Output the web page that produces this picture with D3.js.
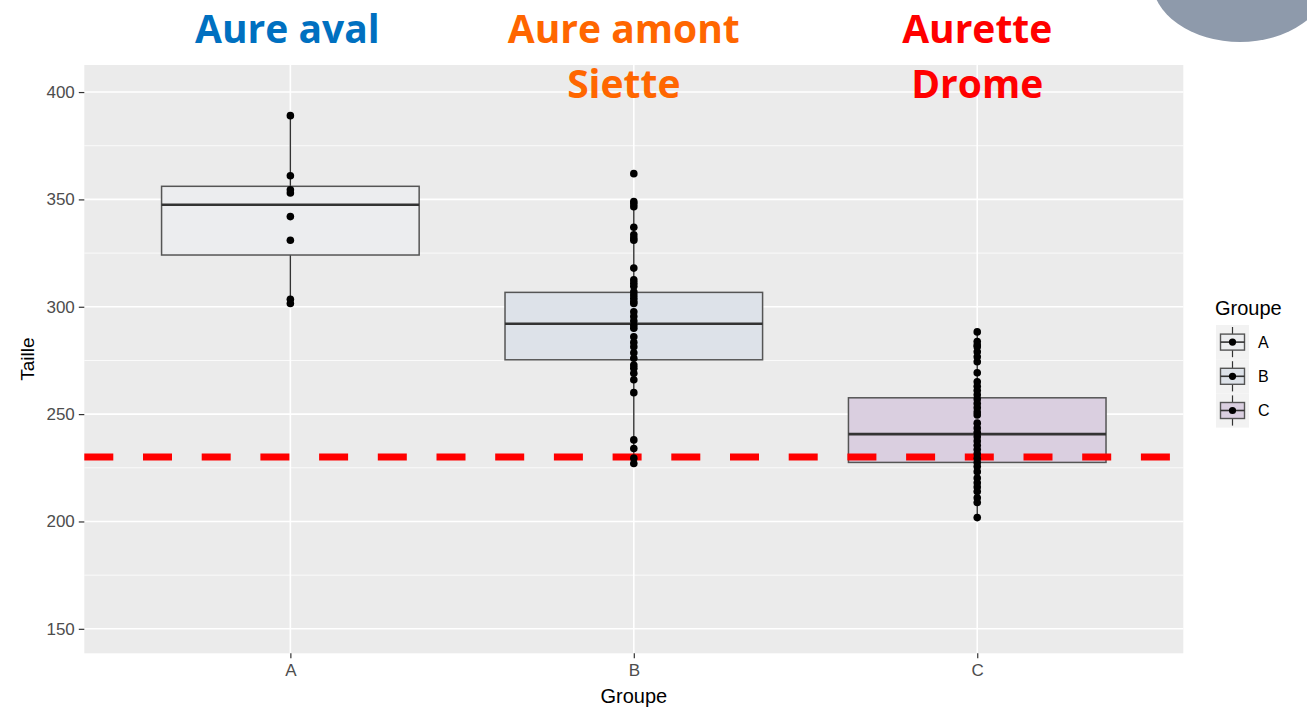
<!DOCTYPE html>
<html>
<head>
<meta charset="utf-8">
<script src="https://cdn.jsdelivr.net/npm/d3@7"></script>
<style>
  body { margin: 0; background: #fff; }
  svg { display: block; }
</style>
</head>
<body>
<div id="vis"></div>
<script>
// data
var groups = ["A", "B", "C"];
var groupFill = ["#ECEDEF", "#DDE2E9", "#DACFE0"];

var valuesA = [389, 361, 354.5, 353, 342, 331, 303.5, 301.5];
var valuesB = [362, 349, 348, 346.6, 337, 333.5, 332, 331, 318, 312.5, 311, 309.5,
               307, 305.5, 304, 302.5, 301.5, 297.7, 295.5, 293.4, 291.3, 290,
               286, 283.4, 281.4, 278.6, 276, 272.9, 271.4, 269, 266, 260,
               238, 234, 229.5, 227];
var valuesC = [288.3, 283.8, 282.2, 281.4, 279, 276.7, 274.4, 269.3,
               265.1, 263, 261, 259, 257, 255, 253, 251, 249.6,
               245.8, 243.5, 241.5, 239.5, 237.5, 235.5, 233.5, 231.5, 229.5, 227.5,
               225.6, 223.2, 220.2, 218, 216, 213.9, 211, 208.8, 201.8];

// box statistics (lower whisker, Q1, median, Q3, upper whisker)
var whiskerLow  = [301.5, 227, 201.8];
var boxQ1       = [324.1, 275.3, 227.5];
var boxMedian   = [347.5, 292.1, 240.7];
var boxQ3       = [356.1, 306.7, 257.6];
var whiskerHigh = [389, 349, 288.3];

var yMajor = [150, 200, 250, 300, 350, 400];
var yMinor = [175, 225, 275, 325, 375];
var refLine = 230;

var titles = [
  {group: "A", lines: ["Aure aval"], color: "#0070C0"},
  {group: "B", lines: ["Aure amont", "Siette"], color: "#FF6600"},
  {group: "C", lines: ["Aurette", "Drome"], color: "#FF0000"}
];
var titleShift = {A: -3, B: -10, C: 0};

var allValues = [valuesA, valuesB, valuesC];

var width = 1307, height = 714;
var panel = {left: 84.3, right: 1183.3, top: 65, bottom: 653.3};
var axisFont = "'Liberation Sans', Arial, sans-serif";

var svg = d3.select("#vis").append("svg")
  .attr("width", width)
  .attr("height", height);

// grey shape top-right
svg.append("ellipse")
  .attr("cx", 1240).attr("cy", -20)
  .attr("rx", 88).attr("ry", 62)
  .attr("fill", "#8E9AAB");

var x = d3.scalePoint().domain(groups).range([panel.left, panel.right]).padding(0.6);
var y = d3.scaleLinear().domain([138.6, 412.6]).range([panel.bottom, panel.top]);
var boxW = x.step() * 0.75;

// panel background
svg.append("rect")
  .attr("x", panel.left).attr("y", panel.top)
  .attr("width", panel.right - panel.left)
  .attr("height", panel.bottom - panel.top)
  .attr("fill", "#EBEBEB");

// grid
svg.selectAll(".minor").data(yMinor).enter().append("line")
  .attr("x1", panel.left).attr("x2", panel.right)
  .attr("y1", function(d) { return y(d); }).attr("y2", function(d) { return y(d); })
  .attr("stroke", "#fff").attr("stroke-width", 0.8);
svg.selectAll(".major").data(yMajor).enter().append("line")
  .attr("x1", panel.left).attr("x2", panel.right)
  .attr("y1", function(d) { return y(d); }).attr("y2", function(d) { return y(d); })
  .attr("stroke", "#fff").attr("stroke-width", 1.6);
svg.selectAll(".vmajor").data(groups).enter().append("line")
  .attr("y1", panel.top).attr("y2", panel.bottom)
  .attr("x1", function(d) { return x(d); }).attr("x2", function(d) { return x(d); })
  .attr("stroke", "#fff").attr("stroke-width", 1.6);

// axes
var yAxis = svg.append("g")
  .attr("transform", "translate(" + panel.left + ",0)")
  .call(d3.axisLeft(y).tickValues(yMajor).tickSize(5.5).tickPadding(4));
var xAxis = svg.append("g")
  .attr("transform", "translate(0," + panel.bottom + ")")
  .call(d3.axisBottom(x).tickSize(5).tickPadding(6));
[yAxis, xAxis].forEach(function(a) {
  a.select(".domain").remove();
  a.selectAll("line").attr("stroke", "#333").attr("stroke-width", 1.2);
  a.selectAll("text").attr("fill", "#4D4D4D")
    .style("font-family", axisFont)
    .style("font-size", "17px");
});

// axis titles
svg.append("text")
  .attr("transform", "translate(34," + ((panel.top + panel.bottom) / 2) + ") rotate(-90)")
  .attr("text-anchor", "middle")
  .style("font-family", axisFont)
  .style("font-size", "19px")
  .text("Taille");
svg.append("text")
  .attr("x", (panel.left + panel.right) / 2).attr("y", 703)
  .attr("text-anchor", "middle")
  .style("font-family", axisFont)
  .style("font-size", "20px")
  .text("Groupe");

// boxes
groups.forEach(function(g, i) {
  var cx = x(g);
  var box = svg.append("g");
  box.append("line")
    .attr("x1", cx).attr("x2", cx)
    .attr("y1", y(whiskerHigh[i])).attr("y2", y(boxQ3[i]))
    .attr("stroke", "#333").attr("stroke-width", 1.4);
  box.append("line")
    .attr("x1", cx).attr("x2", cx)
    .attr("y1", y(boxQ1[i])).attr("y2", y(whiskerLow[i]))
    .attr("stroke", "#333").attr("stroke-width", 1.4);
  box.append("rect")
    .attr("x", cx - boxW / 2).attr("width", boxW)
    .attr("y", y(boxQ3[i])).attr("height", y(boxQ1[i]) - y(boxQ3[i]))
    .attr("fill", groupFill[i])
    .attr("stroke", "#555").attr("stroke-width", 1.5);
  box.append("line")
    .attr("x1", cx - boxW / 2).attr("x2", cx + boxW / 2)
    .attr("y1", y(boxMedian[i])).attr("y2", y(boxMedian[i]))
    .attr("stroke", "#333").attr("stroke-width", 2.6);
});

// reference line
svg.append("line")
  .attr("x1", panel.left).attr("x2", panel.right)
  .attr("y1", y(refLine)).attr("y2", y(refLine))
  .attr("stroke", "#FF0000").attr("stroke-width", 7)
  .attr("stroke-dasharray", "29,29.7");

// points
groups.forEach(function(g, i) {
  svg.selectAll(".pt" + g).data(allValues[i]).enter().append("circle")
    .attr("cx", x(g))
    .attr("cy", function(d) { return y(d); })
    .attr("r", 3.8)
    .attr("fill", "#000");
});

// titles above each group
titles.forEach(function(t) {
  t.lines.forEach(function(line, j) {
    svg.append("text")
      .attr("x", x(t.group) + titleShift[t.group]).attr("y", 43 + j * 55)
      .attr("text-anchor", "middle")
      .attr("fill", t.color)
      .style("font-family", "'Open Sans', sans-serif")
      .style("font-weight", "bold")
      .style("font-size", "39px")
      .text(line);
  });
});

// legend
var legend = svg.append("g").attr("transform", "translate(1216,325)");
legend.append("text")
  .attr("x", -1).attr("y", -10)
  .style("font-family", axisFont)
  .style("font-size", "20px")
  .text("Groupe");
var keyH = 34.2, keyW = 33;
groups.forEach(function(g, i) {
  var k = legend.append("g").attr("transform", "translate(0," + (i * keyH) + ")");
  k.append("rect").attr("width", keyW).attr("height", keyH).attr("fill", "#F2F2F2");
  var mx = keyW / 2, my = keyH / 2;
  k.append("line").attr("x1", mx).attr("x2", mx).attr("y1", 2).attr("y2", keyH - 2)
    .attr("stroke", "#333").attr("stroke-width", 1.2);
  k.append("rect").attr("x", 4.5).attr("y", my - 8).attr("width", keyW - 9).attr("height", 16)
    .attr("fill", groupFill[i]).attr("stroke", "#555").attr("stroke-width", 1.4);
  k.append("line").attr("x1", 4.5).attr("x2", keyW - 4.5).attr("y1", my).attr("y2", my)
    .attr("stroke", "#333").attr("stroke-width", 1.6);
  k.append("circle").attr("cx", mx).attr("cy", my).attr("r", 3.6).attr("fill", "#000");
  k.append("text")
    .attr("x", keyW + 9).attr("y", my + 6)
    .style("font-family", axisFont)
    .style("font-size", "16px")
    .attr("fill", "#000")
    .text(g);
});
</script>
</body>
</html>
